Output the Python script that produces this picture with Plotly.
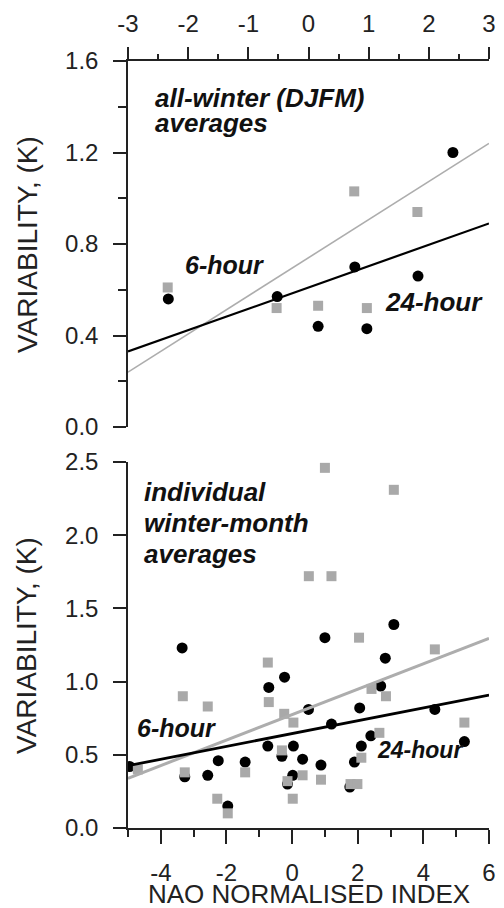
import numpy as np
import plotly.graph_objects as go

# ---------------- data ----------------
# Top panel: all-winter (DJFM) averages
top_black_x = [-2.33, -0.52, 0.16, 0.77, 0.97, 1.82, 2.40]
top_black_y = [0.56, 0.57, 0.44, 0.70, 0.43, 0.66, 1.20]
top_grey_x = [-2.34, -0.53, 0.16, 0.76, 0.97, 1.81]
top_grey_y = [0.61, 0.52, 0.53, 1.03, 0.52, 0.94]
top_black_fit = [0.610, 0.0933]   # intercept, slope
top_grey_fit = [0.740, 0.1667]

# Bottom panel: individual winter-month averages
bot_black_x = [-4.95, -3.35, -3.27, -2.57, -2.25, -1.96, -1.43, -0.74, -0.71, -0.31,
               -0.23, -0.14, 0.02, 0.04, 0.32, 0.50, 0.88, 1.00, 1.20, 1.76,
               1.90, 2.06, 2.11, 2.40, 2.70, 2.84, 3.10, 4.35, 5.25]
bot_black_y = [0.42, 1.23, 0.35, 0.36, 0.46, 0.15, 0.45, 0.56, 0.96, 0.49,
               1.03, 0.30, 0.36, 0.56, 0.47, 0.81, 0.43, 1.30, 0.71, 0.28,
               0.45, 0.82, 0.56, 0.63, 0.97, 1.16, 1.39, 0.81, 0.59]
bot_grey_x = [-4.70, -3.33, -3.27, -2.57, -2.28, -1.96, -1.43, -0.74, -0.71, -0.31,
              -0.24, -0.14, 0.02, 0.04, 0.32, 0.51, 0.88, 1.00, 1.20, 1.78,
              1.99, 2.04, 2.11, 2.42, 2.66, 2.86, 3.10, 4.35, 5.25]
bot_grey_y = [0.40, 0.90, 0.38, 0.83, 0.20, 0.10, 0.38, 1.13, 0.86, 0.53,
              0.78, 0.32, 0.20, 0.72, 0.36, 1.72, 0.33, 2.46, 1.72, 0.30,
              0.30, 1.30, 0.48, 0.95, 0.65, 0.90, 2.31, 1.22, 0.72]
bot_black_fit = [0.645, 0.0439]
bot_grey_fit = [0.774, 0.0869]

top_x_range = [-3, 3]
top_y_range = [0, 1.6]
bot_x_range = [-5, 6]
bot_y_range = [0, 2.5]

top_x_ticks = [-3, -2, -1, 0, 1, 2, 3]
top_x_labels = ["-3", "-2", "-1", "0", "1", "2", "3"]
bot_x_ticks = [-4, -2, 0, 2, 4, 6]
bot_x_labels = ["-4", "-2", "0", "2", "4", "6"]

# ---------------- styling ----------------
FONT = "Liberation Sans, Arial, Helvetica, sans-serif"
AX = "#222222"
GREY = "#a9a9a9"
GREYLINE = "#adadad"

fig = go.Figure()

# top panel
fig.add_trace(go.Scatter(x=top_grey_x, y=top_grey_y, mode="markers", xaxis="x3", yaxis="y3",
                         marker=dict(symbol="square", size=10, color=GREY), name="6-hour"))
fig.add_trace(go.Scatter(x=top_black_x, y=top_black_y, mode="markers", xaxis="x3", yaxis="y3",
                         marker=dict(symbol="circle", size=11, color="black"), name="24-hour"))
tx = np.array(top_x_range, dtype=float)
fig.add_trace(go.Scatter(x=tx, y=top_grey_fit[0] + top_grey_fit[1] * tx, mode="lines",
                         xaxis="x3", yaxis="y3", line=dict(color=GREYLINE, width=1.6)))
fig.add_trace(go.Scatter(x=tx, y=top_black_fit[0] + top_black_fit[1] * tx, mode="lines",
                         xaxis="x3", yaxis="y3", line=dict(color="black", width=2.2)))

# bottom panel
fig.add_trace(go.Scatter(x=bot_black_x, y=bot_black_y, mode="markers", xaxis="x", yaxis="y",
                         marker=dict(symbol="circle", size=11, color="black"), name="24-hour"))
fig.add_trace(go.Scatter(x=bot_grey_x, y=bot_grey_y, mode="markers", xaxis="x", yaxis="y",
                         marker=dict(symbol="square", size=10, color=GREY), name="6-hour"))
bx = np.array(bot_x_range, dtype=float)
fig.add_trace(go.Scatter(x=bx, y=bot_grey_fit[0] + bot_grey_fit[1] * bx, mode="lines",
                         xaxis="x", yaxis="y", line=dict(color=GREYLINE, width=3)))
fig.add_trace(go.Scatter(x=bx, y=bot_black_fit[0] + bot_black_fit[1] * bx, mode="lines",
                         xaxis="x", yaxis="y", line=dict(color="black", width=2.8)))

common = dict(showgrid=False, zeroline=False, showline=True, linecolor=AX, linewidth=1.5,
              ticks="outside", tickcolor=AX, tickwidth=1.5,
              tickfont=dict(family=FONT, size=24, color="#222"))

H_TOP0, H_BOT1 = 0.5228, 0.4772

fig.update_layout(
    width=504, height=908,
    margin=dict(l=128, r=8, t=61, b=80),
    paper_bgcolor="white", plot_bgcolor="white",
    showlegend=False,
    xaxis=dict(common, domain=[0, 1], anchor="y", side="bottom", range=bot_x_range,
               tickmode="array", tickvals=bot_x_ticks, ticktext=bot_x_labels, ticklen=14,
               ticklabelstandoff=8,
               minor=dict(ticks="outside", dtick=1, tick0=0, ticklen=7, tickcolor=AX, tickwidth=1.5, showgrid=False)),
    xaxis2=dict(common, overlaying="x", anchor="y", side="top", range=bot_x_range,
                tickmode="array", tickvals=bot_x_ticks, ticklen=13, showticklabels=False,
                minor=dict(ticks="outside", dtick=1, tick0=0, ticklen=8, tickcolor=AX, tickwidth=1.5, showgrid=False)),
    xaxis3=dict(common, domain=[0, 1], anchor="y3", side="top", range=top_x_range,
                tickmode="array", tickvals=top_x_ticks, ticktext=top_x_labels, ticklen=12,
                ticklabelstandoff=6,
                minor=dict(ticks="outside", dtick=0.5, tick0=0, ticklen=5, tickcolor=AX, tickwidth=1.5, showgrid=False)),
    xaxis4=dict(common, overlaying="x3", anchor="y3", side="bottom", range=top_x_range,
                tickmode="array", tickvals=top_x_ticks, ticklen=13, showticklabels=False,
                minor=dict(ticks="outside", dtick=0.5, tick0=0, ticklen=7, tickcolor=AX, tickwidth=1.5, showgrid=False)),
    yaxis=dict(common, domain=[0, H_BOT1], anchor="x", range=bot_y_range, dtick=0.5, tick0=0,
               tickformat=".1f", ticklen=13, ticklabelstandoff=10),
    yaxis2=dict(common, overlaying="y", anchor="x", side="right", range=[0, 5], dtick=1,
                ticklen=8, showticklabels=False),
    yaxis3=dict(common, domain=[H_TOP0, 1], anchor="x3", range=top_y_range, dtick=0.4, tick0=0,
                tickformat=".1f", ticklen=13, ticklabelstandoff=10,
                minor=dict(ticks="outside", dtick=0.2, tick0=0, ticklen=8, tickcolor=AX, tickwidth=1.5, showgrid=False)),
    yaxis4=dict(common, overlaying="y3", anchor="x3", side="right", range=[0, 6], dtick=1,
                ticklen=7, showticklabels=False),
)

lab_font = dict(family=FONT, size=26, color="#111", weight="bold", style="italic")
small_font = dict(family=FONT, size=25, color="#111", weight="bold", style="italic")
small_font2 = dict(family=FONT, size=23, color="#111", weight="bold", style="italic")
ann = []
def A(text, x, y, xref, yref, font, xanchor="left"):
    ann.append(dict(text=text, x=x, y=y, xref=xref, yref=yref, showarrow=False,
                    xanchor=xanchor, yanchor="middle", font=font))

A("all-winter (DJFM)", -2.59, 1.440, "x3", "y3", lab_font)
A("averages", -2.59, 1.330, "x3", "y3", lab_font)
A("6-hour", -2.08, 0.708, "x3", "y3", small_font)
A("24-hour", 1.23, 0.547, "x3", "y3", dict(small_font, size=26))

A("individual", -4.56, 2.293, "x", "y", lab_font)
A("winter-month", -4.56, 2.082, "x", "y", lab_font)
A("averages", -4.56, 1.873, "x", "y", lab_font)
A("6-hour", -4.78, 0.683, "x", "y", small_font)
A("24-hour", 2.53, 0.532, "x", "y", small_font2)

title_font = dict(family=FONT, size=28, color="#222")
# y-axis titles (paper coords; plot area x from 128 to 496 px)
px_w = 504 - 128 - 8
ann.append(dict(text="VARIABILITY, (K)", x=(25 - 128) / px_w, y=(H_TOP0 + 1) / 2, xref="paper", yref="paper",
                showarrow=False, textangle=-90, xanchor="center", yanchor="middle", font=title_font))
ann.append(dict(text="VARIABILITY, (K)", x=(25 - 128) / px_w, y=H_BOT1 / 2, xref="paper", yref="paper",
                showarrow=False, textangle=-90, xanchor="center", yanchor="middle", font=title_font))
px_h = 908 - 61 - 80
ann.append(dict(text="NAO NORMALISED INDEX", x=(312 - 128) / px_w, y=-(894 - 828) / px_h, xref="paper", yref="paper",
                showarrow=False, xanchor="center", yanchor="middle", font=dict(title_font, size=26)))
fig.update_layout(annotations=ann)

fig.write_html("out.html")
